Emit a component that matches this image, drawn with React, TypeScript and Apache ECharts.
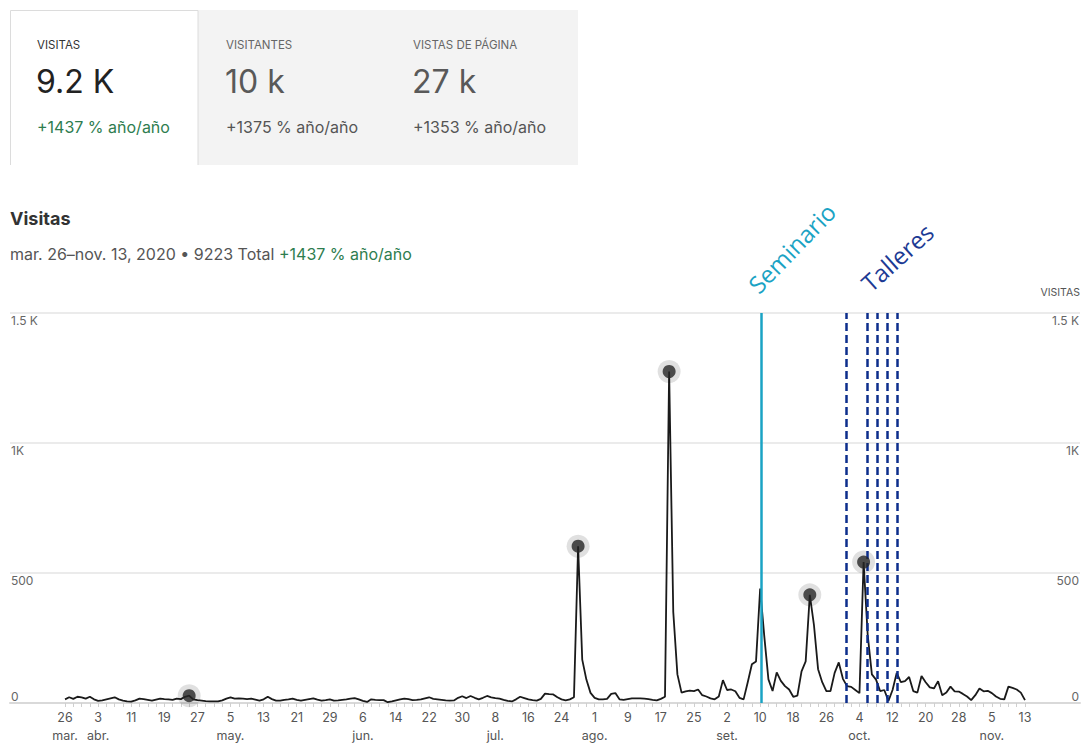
import React, { useEffect, useRef } from "react";
import * as echarts from "echarts";

// Daily visits, Mar 26 2020 (day 0) .. Nov 13 2020 (day 232)
const visits = [
  14, 22, 16, 24, 22, 17, 24, 14, 8, 10,
  14, 18, 22, 14, 9, 6, 5, 10, 17, 15,
  12, 9, 13, 17, 15, 14, 12, 17, 15, 24,
  28, 14, 11, 9, 7, 6, 6, 6, 10, 17,
  22, 17, 18, 17, 15, 17, 13, 9, 14, 24,
  15, 9, 9, 12, 14, 17, 12, 9, 12, 15,
  18, 13, 9, 11, 14, 9, 10, 12, 14, 17,
  19, 14, 8, 4, 14, 12, 11, 11, 3, 6,
  10, 14, 17, 15, 11, 12, 14, 18, 22, 16,
  14, 12, 10, 9, 10, 20, 26, 19, 27, 20,
  14, 20, 27, 22, 19, 17, 12, 8, 6, 14,
  24, 19, 14, 11, 9, 16, 36, 34, 33, 22,
  14, 10, 14, 22, 603, 167, 90, 39, 20, 14,
  14, 16, 35, 38, 14, 12, 15, 18, 18, 18,
  17, 15, 12, 10, 16, 24, 1275, 350, 110, 40,
  45, 48, 46, 52, 30, 25, 18, 14, 25, 88,
  50, 52, 45, 20, 14, 80, 149, 160, 440, 256,
  91, 46, 118, 85, 65, 52, 24, 28, 122, 160,
  416, 300, 130, 80, 46, 46, 116, 156, 93, 65,
  62, 50, 38, 542, 260, 110, 90, 46, 50, 8,
  50, 116, 80, 84, 100, 46, 40, 104, 80, 60,
  56, 84, 30, 40, 63, 45, 44, 35, 25, 11,
  30, 56, 45, 47, 38, 25, 16, 14, 63, 58,
  52, 40, 11,
];

const dotDays = [30, 124, 146, 180, 193];
const seminarioDay = 168.3;
const talleresDays = [188.7, 193.9, 196.2, 198.8, 201.2];

const xTickDays = [0, 8, 16, 24, 32, 40, 48, 56, 64, 72, 80, 88, 96, 104, 112, 120, 128, 136, 144, 152, 160, 168, 176, 184, 192, 200, 208, 216, 224, 232];
const xTickLabels = ["26", "3", "11", "19", "27", "5", "13", "21", "29", "6", "14", "22", "30", "8", "16", "24", "1", "9", "17", "25", "2", "10", "18", "26", "4", "12", "20", "28", "5", "13"];
const xMonthLabels = ["mar.", "abr.", "", "", "", "may.", "", "", "", "jun.", "", "", "", "jul.", "", "", "ago.", "", "", "", "set.", "", "", "", "oct.", "", "", "", "nov.", ""];

const yTicks = [0, 500, 1000, 1500];
const yTickLabels = ["0", "500", "1K", "1.5 K"];

const cardLabels = ["VISITAS", "VISITANTES", "VISTAS DE PÁGINA"];
const cardValues = ["9.2 K", "10 k", "27 k"];
const cardChanges = ["+1437 % año/año", "+1375 % año/año", "+1353 % año/año"];

const FONT = "Inter, 'Noto Sans', 'Liberation Sans', sans-serif";
const ANNOT_FONT = "'Open Sans', 'Noto Sans', sans-serif";
const GREEN = "#2e7d4f";

export default function App() {
  const ref = useRef<HTMLDivElement>(null);

  useEffect(() => {
    if (!ref.current) return;
    const chart = echarts.init(ref.current, null, { renderer: "svg" });

    const minorTicks: number[] = [];
    for (let d = 0; d <= 232; d += 2) minorTicks.push(d);

    const lineData = visits.map((v, i) => [i, v]);
    const dotData = dotDays.map((d) => [d, visits[d]]);

    const yLabelFormatter = (v: number) => {
      const i = yTicks.indexOf(v);
      const t = i >= 0 ? yTickLabels[i] : "";
      return v === 0 ? `{z|${t}}` : `{n|${t}}`;
    };
    const yRich = {
      z: { padding: [0, 0, 14, 0], fontSize: 12, color: "#666", fontFamily: FONT },
      n: { padding: [15, 0, 0, 0], fontSize: 12, color: "#666", fontFamily: FONT },
    };

    const cardX = [37, 226, 413];
    const graphics: any[] = [
      { type: "rect", shape: { x: 198, y: 10, width: 380, height: 155 }, style: { fill: "#f3f3f3" }, silent: true },
      {
        type: "polyline",
        shape: { points: [[10.5, 165], [10.5, 10.5], [198, 10.5], [198, 165]] },
        style: { stroke: "#dcdcdc", lineWidth: 1, fill: null },
        silent: true,
      },
    ];
    cardLabels.forEach((lab, i) => {
      const first = i === 0;
      graphics.push({
        type: "text", x: cardX[i], y: 45,
        style: { text: lab, fill: first ? "#333" : "#666", fontSize: 11.5, fontFamily: FONT, align: "left", verticalAlign: "middle", textAlign: "left", textVerticalAlign: "middle" },
      });
      graphics.push({
        type: "text", x: cardX[i] - 1, y: 81,
        style: { text: cardValues[i], fill: first ? "#222" : "#595959", fontSize: 32, fontFamily: FONT, align: "left", verticalAlign: "middle", textAlign: "left", textVerticalAlign: "middle" },
      });
      graphics.push({
        type: "text", x: cardX[i], y: 127,
        style: { text: cardChanges[i], fill: first ? GREEN : "#555", fontSize: 16, fontFamily: FONT, align: "left", verticalAlign: "middle", textAlign: "left", textVerticalAlign: "middle" },
      });
    });
    graphics.push({
      type: "text", x: 10, y: 218,
      style: { text: "Visitas", fill: "#333", fontSize: 18, fontWeight: "bold", fontFamily: FONT, align: "left", verticalAlign: "middle", textAlign: "left", textVerticalAlign: "middle" },
    });
    graphics.push({
      type: "text", x: 10, y: 254,
      style: {
        text: "{a|mar. 26–nov. 13, 2020 • 9223 Total }{g|+1437 % año/año}",
        align: "left", verticalAlign: "middle", textAlign: "left", textVerticalAlign: "middle",
        rich: {
          a: { fill: "#555", fontSize: 16, fontFamily: FONT },
          g: { fill: GREEN, fontSize: 16, fontFamily: FONT },
        },
      },
    });
    graphics.push({
      type: "text", x: 1080, y: 292,
      style: { text: "VISITAS", fill: "#555", fontSize: 10.5, fontFamily: FONT, align: "right", verticalAlign: "middle", textAlign: "right", textVerticalAlign: "middle" },
    });
    graphics.push({
      type: "text", x: 761, y: 297, rotation: (46 * Math.PI) / 180,
      style: { text: "Seminario", fill: "#1aa3c4", fontSize: 24, fontFamily: ANNOT_FONT, align: "left", verticalAlign: "bottom", textAlign: "left", textVerticalAlign: "bottom" },
    });
    graphics.push({
      type: "text", x: 873, y: 295, rotation: (42 * Math.PI) / 180,
      style: { text: "Talleres", fill: "#1c3a94", fontSize: 24, fontFamily: ANNOT_FONT, align: "left", verticalAlign: "bottom", textAlign: "left", textVerticalAlign: "bottom" },
    });

    const markLineData: any[] = [
      { xAxis: seminarioDay, lineStyle: { color: "#1aa3c4", width: 2.5, type: "solid" } },
      ...talleresDays.map((d) => ({ xAxis: d, lineStyle: { color: "#0d2e8c", width: 2.5, type: [8, 4] } })),
    ];

    chart.setOption({
      animation: false,
      grid: { left: 10, right: 2, top: 313, bottom: 37, containLabel: false },
      xAxis: {
        type: "value",
        min: -13.3,
        max: 245.3,
        axisLine: { show: true, lineStyle: { color: "#d9d9d9", width: 2 } },
        axisTick: { show: true, customValues: minorTicks, length: 4, lineStyle: { color: "#cfcfcf", width: 1 } },
        splitLine: { show: false },
        axisLabel: {
          customValues: xTickDays,
          margin: 5,
          fontSize: 12.5,
          lineHeight: 18,
          color: "#555",
          fontFamily: FONT,
          formatter: (v: number) => {
            const i = xTickDays.indexOf(Math.round(v));
            if (i < 0) return "";
            return xMonthLabels[i] ? `${xTickLabels[i]}\n${xMonthLabels[i]}` : xTickLabels[i];
          },
        },
      },
      yAxis: [
        {
          type: "value", min: 0, max: 1500, interval: 500, position: "left",
          axisLine: { show: false }, axisTick: { show: false },
          splitLine: { show: true, lineStyle: { color: "#e4e4e4", width: 1.5 } },
          axisLabel: { inside: true, margin: 1, verticalAlign: "middle", formatter: yLabelFormatter, rich: yRich },
        },
        {
          type: "value", min: 0, max: 1500, interval: 500, position: "right",
          axisLine: { show: false }, axisTick: { show: false },
          splitLine: { show: false },
          axisLabel: { inside: true, margin: 1, verticalAlign: "middle", formatter: yLabelFormatter, rich: yRich },
        },
      ],
      graphic: { elements: graphics },
      series: [
        {
          type: "line",
          data: lineData,
          symbol: "none",
          lineStyle: { color: "#1a1a1a", width: 1.8 },
          z: 3,
          markLine: { silent: true, symbol: "none", label: { show: false }, data: markLineData },
        },
        {
          type: "scatter",
          data: dotData,
          symbolSize: 23,
          itemStyle: { color: "rgba(0,0,0,0.15)" },
          silent: true,
          z: 4,
        },
        {
          type: "scatter",
          data: dotData,
          symbolSize: 13,
          itemStyle: { color: "#262626" },
          silent: true,
          z: 5,
        },
      ],
    });

    return () => chart.dispose();
  }, []);

  return <div ref={ref} style={{ position: "absolute", left: 0, top: 0, width: 1082, height: 744 }} />;
}
